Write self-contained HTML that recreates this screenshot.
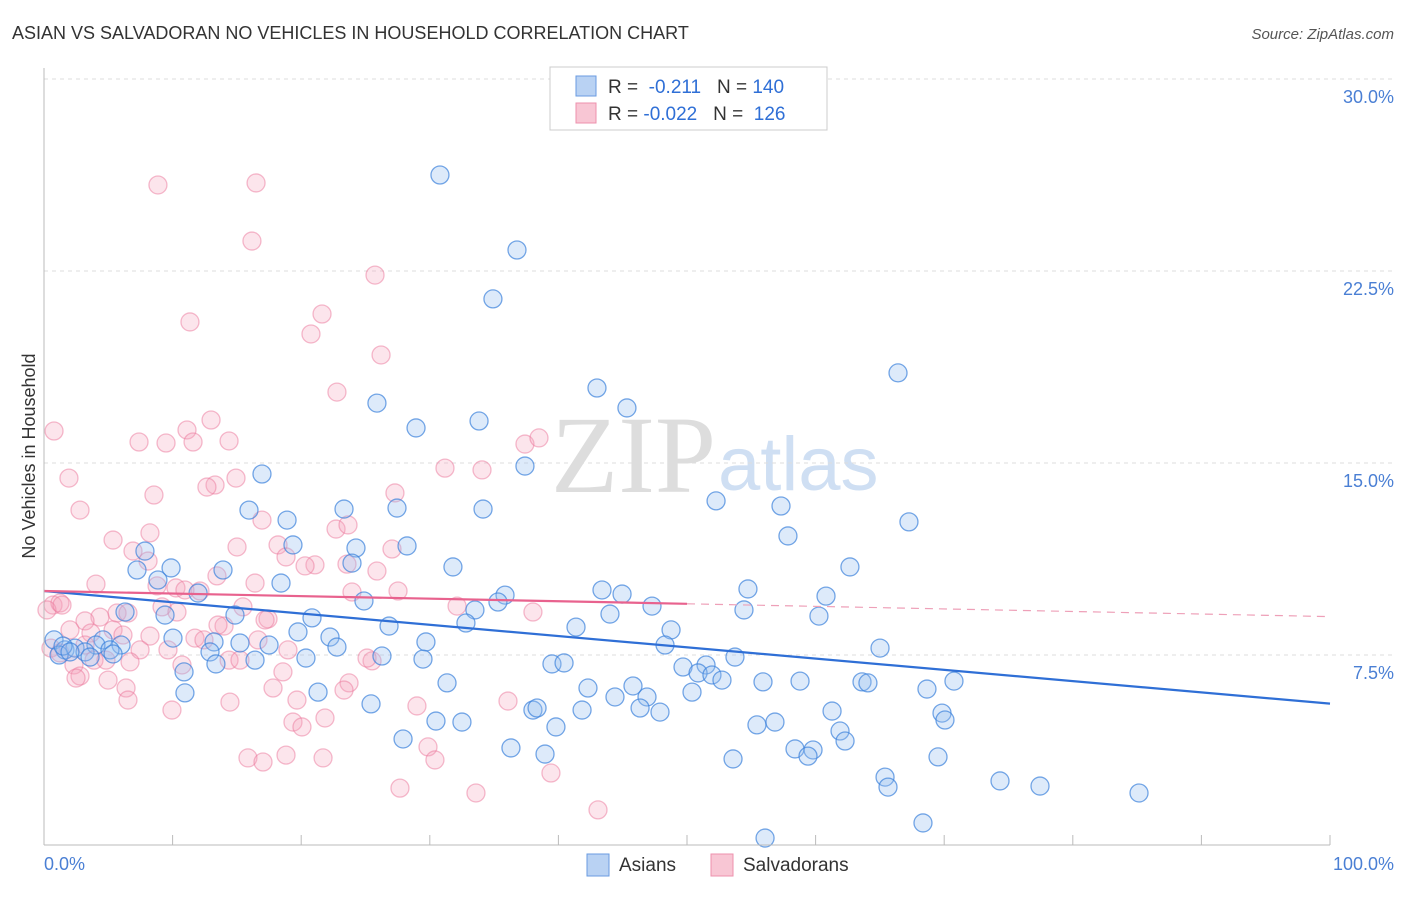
<!DOCTYPE html>
<html><head><meta charset="utf-8"><style>
body{margin:0;background:#fff;font-family:"Liberation Sans",sans-serif;}
</style></head><body>
<svg width="1406" height="892" xmlns="http://www.w3.org/2000/svg">
<text x="12" y="39" font-size="18" fill="#333">ASIAN VS SALVADORAN NO VEHICLES IN HOUSEHOLD CORRELATION CHART</text>
<text x="1394" y="39" font-size="15" fill="#555" text-anchor="end" font-style="italic">Source: ZipAtlas.com</text>
<text x="35" y="456" font-size="18" fill="#333" text-anchor="middle" transform="rotate(-90 35 456)">No Vehicles in Household</text>
<text x="716" y="492" font-size="110" fill="#ddd" text-anchor="end" font-family="Liberation Serif,serif">ZIP</text>
<text x="718" y="490" font-size="76" fill="#cfdff3">atlas</text>
<g id="grid"></g><g id="pts"></g><g id="lines"></g>
<line x1="44" y1="68" x2="44" y2="845" stroke="#bbb"/>
<line x1="44" y1="845" x2="1330" y2="845" stroke="#bbb"/>
<text x="44" y="870" font-size="18" fill="#4a7fd4">0.0%</text>
<text x="1394" y="870" font-size="18" fill="#4a7fd4" text-anchor="end">100.0%</text>
<g>
<rect x="550" y="67" width="277" height="63" fill="#fff" stroke="#ccc"/>
<rect x="576" y="76" width="20" height="20" fill="#b9d2f3" stroke="#6a9be0"/>
<rect x="576" y="103" width="20" height="20" fill="#f8c6d4" stroke="#ee90ad"/>
<text x="608" y="93" font-size="19" fill="#333">R = <tspan fill="#2f6fd6">&#160;-0.211</tspan>&#160;&#160;&#160;N = <tspan fill="#2f6fd6">140</tspan></text>
<text x="608" y="120" font-size="19" fill="#333">R = <tspan fill="#2f6fd6">-0.022</tspan>&#160;&#160;&#160;N = <tspan fill="#2f6fd6">&#160;126</tspan></text>
</g>
<g>
<rect x="587" y="854" width="22" height="22" fill="#b9d2f3" stroke="#6a9be0"/>
<text x="619" y="871" font-size="19" fill="#333">Asians</text>
<rect x="711" y="854" width="22" height="22" fill="#f8c6d4" stroke="#ee90ad"/>
<text x="743" y="871" font-size="19" fill="#333">Salvadorans</text>
</g>
</svg>
<script>
const yTicks=[7.5,15,22.5,30];
const yTickLabels=["7.5%","15.0%","22.5%","30.0%"];
const xTicks=[0,10,20,30,40,50,60,70,80,90,100];
const asianPx=[[440,175],[517,250],[493,299],[898,373],[597,388],[377,403],[627,408],[416,428],[479,421],[525,466],[262,474],[716,501],[781,506],[909,522],[249,510],[287,520],[344,509],[397,508],[483,509],[788,536],[145,551],[293,545],[356,548],[407,546],[850,567],[171,568],[137,570],[223,570],[352,563],[453,567],[158,580],[281,583],[602,590],[622,594],[748,589],[505,595],[826,596],[198,593],[312,618],[235,615],[364,601],[498,602],[125,612],[165,615],[652,606],[744,610],[819,616],[475,610],[610,614],[466,623],[389,626],[576,627],[298,632],[173,638],[214,642],[330,637],[426,642],[671,630],[665,645],[880,648],[240,643],[269,645],[337,647],[103,640],[96,645],[121,645],[54,640],[65,650],[75,648],[85,652],[110,650],[59,655],[210,652],[255,660],[306,658],[382,656],[423,659],[552,664],[564,663],[735,657],[216,664],[184,672],[706,665],[683,667],[698,673],[712,675],[722,680],[447,683],[588,688],[633,686],[763,682],[800,681],[862,682],[868,683],[954,681],[185,693],[318,692],[615,697],[647,697],[692,692],[927,689],[371,704],[533,710],[537,708],[582,710],[640,708],[660,712],[832,711],[942,713],[945,720],[436,721],[462,722],[556,727],[757,725],[775,722],[840,731],[403,739],[845,741],[511,748],[545,754],[795,749],[813,750],[808,756],[938,757],[733,759],[885,777],[888,787],[1000,781],[1040,786],[1139,793],[923,823],[765,838],[63,646],[90,657],[70,652],[113,654]];
const salvPx=[[158,185],[256,183],[252,241],[375,275],[190,322],[322,314],[311,334],[381,355],[337,392],[211,420],[187,430],[139,442],[166,443],[193,442],[229,441],[525,444],[539,438],[54,431],[445,468],[482,470],[69,478],[236,478],[215,485],[207,487],[395,493],[154,495],[80,510],[262,520],[336,529],[348,525],[150,533],[113,540],[237,547],[278,545],[392,549],[133,551],[148,561],[286,557],[315,565],[305,566],[377,571],[347,564],[217,576],[255,583],[176,588],[185,590],[200,591],[96,584],[157,586],[398,591],[352,592],[53,605],[60,603],[47,610],[243,607],[457,606],[162,607],[177,612],[533,612],[117,613],[128,613],[100,617],[85,621],[268,619],[265,620],[224,626],[218,625],[70,630],[91,633],[113,630],[123,635],[150,636],[195,638],[204,640],[258,640],[85,645],[140,650],[168,650],[288,650],[51,648],[60,653],[94,660],[74,665],[106,660],[130,662],[229,660],[182,665],[240,660],[372,661],[367,658],[283,672],[80,676],[76,678],[108,680],[349,683],[126,688],[273,688],[344,690],[230,702],[128,700],[172,710],[297,700],[508,701],[417,706],[293,722],[302,727],[325,718],[428,747],[248,758],[263,762],[286,755],[323,758],[435,760],[551,773],[400,788],[476,793],[598,810],[62,605]];
const asianData=asianPx.map(p=>[+((p[0]-44)/12.86).toFixed(2),+((847-p[1])*7.5/192).toFixed(2)]);
const salvData=salvPx.map(p=>[+((p[0]-44)/12.86).toFixed(2),+((847-p[1])*7.5/192).toFixed(2)]);
const asianTrend=[[0,10.0],[100,5.6]];
const salvTrend=[[0,10.0],[50,9.5],[100,9.0]];
const NS="http://www.w3.org/2000/svg";
function X(v){return 44+v*12.86;}
function Y(v){return 847-v*192/7.5;}
function mk(t,a,parent){const e=document.createElementNS(NS,t);for(const k in a)e.setAttribute(k,a[k]);document.getElementById(parent).appendChild(e);return e;}
yTicks.forEach((t,i)=>{
 const l=mk('line',{x1:44,x2:1394,y1:Y(t),y2:Y(t),stroke:'#ddd','stroke-dasharray':'4,4'},'grid');
 
 
 const tx=mk('text',{x:1394,y:Y(t)+24,'font-size':18,fill:'#4a7fd4','text-anchor':'end'},'grid');
 tx.textContent=yTickLabels[i];
 
 
});
xTicks.forEach(t=>{
 const l=mk('line',{x1:X(t),x2:X(t),y1:835,y2:845,stroke:'#bbb'},'grid');
 
 
});
salvData.forEach(d=>{
 const c=mk('circle',{cx:X(d[0]),cy:Y(d[1]),r:9,fill:'rgba(244,160,186,0.28)',stroke:'rgba(236,120,155,0.5)','stroke-width':1.3},'pts');
 
 
});
asianData.forEach(d=>{
 const c=mk('circle',{cx:X(d[0]),cy:Y(d[1]),r:9,fill:'rgba(150,190,240,0.32)',stroke:'rgba(60,130,220,0.7)','stroke-width':1.3},'pts');
 
 
});
const bl=mk('line',{x1:X(asianTrend[0][0]),y1:Y(asianTrend[0][1]),x2:X(asianTrend[1][0]),y2:Y(asianTrend[1][1]),stroke:'#2f6fd6','stroke-width':2.2},'lines');


const pl=mk('line',{x1:X(salvTrend[0][0]),y1:Y(salvTrend[0][1]),x2:X(salvTrend[1][0]),y2:Y(salvTrend[1][1]),stroke:'#e8628e','stroke-width':2.2},'lines');


const pd=mk('line',{x1:X(salvTrend[1][0]),y1:Y(salvTrend[1][1]),x2:X(salvTrend[2][0]),y2:Y(salvTrend[2][1]),stroke:'#eea0b8','stroke-width':1.2,'stroke-dasharray':'8,6'},'lines');


</script>
</body></html>
